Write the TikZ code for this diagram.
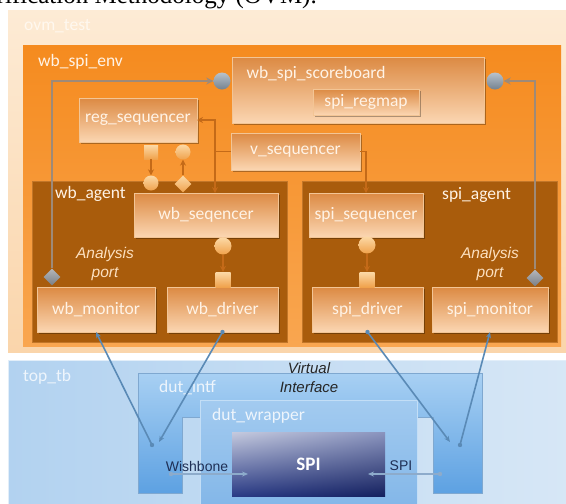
\documentclass[tikz,border=0pt]{standalone}
\usepackage{fontspec}
\setmainfont{Carlito}
\newfontfamily\arialfont{Liberation Sans}
\newfontfamily\timesfont{Liberation Serif}
\usetikzlibrary{arrows.meta,shapes.geometric,shadows,shadings,calc}

% palette
\definecolor{peachTop}{HTML}{FDEBD5}
\definecolor{peachBot}{HTML}{FAD5AB}
\definecolor{envTop}{HTML}{F58B1F}
\definecolor{envBot}{HTML}{F9A650}
\definecolor{agentBrown}{HTML}{A95C0C}
\definecolor{agentEdge}{HTML}{C27628}
\definecolor{boxTop}{HTML}{DC8A43}
\definecolor{boxBot}{HTML}{FBD6B2}
\definecolor{boxEdge}{HTML}{F3C595}
\definecolor{labelCream}{HTML}{FFF3E6}
\definecolor{peachLabel}{HTML}{FFF8EF}
\definecolor{apText}{HTML}{FCE0C0}
\definecolor{seqLine}{HTML}{C46A18}
\definecolor{apLine}{HTML}{9E8A78}
\definecolor{portGrayTop}{HTML}{B8C2CC}
\definecolor{portGrayBot}{HTML}{74828F}
\definecolor{diaTop}{HTML}{B4B7BB}
\definecolor{diaBot}{HTML}{7A7E84}
\definecolor{portTop}{HTML}{FCD9A6}
\definecolor{portBot}{HTML}{F0A24C}
\definecolor{tbLeft}{HTML}{B2D2F0}
\definecolor{tbRight}{HTML}{D7E7F6}
\definecolor{tbEdge}{HTML}{E2EEF9}
\definecolor{intfTop}{HTML}{A8D0F3}
\definecolor{intfBot}{HTML}{5DA1E2}
\definecolor{intfEdge}{HTML}{7FA8D0}
\definecolor{wrapTop}{HTML}{A3CBF0}
\definecolor{wrapBot}{HTML}{82B6E8}
\definecolor{wrapEdge}{HTML}{C3DEF6}
\definecolor{spiUL}{HTML}{C5CADE}
\definecolor{spiUR}{HTML}{8A94BE}
\definecolor{spiLL}{HTML}{2A3B86}
\definecolor{spiLR}{HTML}{15215F}
\definecolor{vifLine}{HTML}{5A8AB6}
\definecolor{busLine}{HTML}{8DABCB}
\definecolor{navyText}{HTML}{1F2F55}
\definecolor{blueLabel}{HTML}{EEF5FC}

\begin{document}
\begin{tikzpicture}[x=1pt,y=-1pt,
  lblfont/.style={font=\fontsize{17.5}{20}\selectfont},
  container/.style={anchor=north west, inner sep=0pt, outer sep=0pt},
  agentbox/.style={container, fill=agentBrown, draw=agentEdge, line width=1pt},
  obox/.style={anchor=north west, inner sep=0pt, outer sep=0pt, lblfont,
    top color=boxTop, bottom color=boxBot, draw=boxEdge, line width=0.6pt,
    text=labelCream,
    drop shadow={shadow xshift=1.5pt, shadow yshift=-1.5pt, opacity=0.3, fill=black}},
  tag/.style={anchor=west, inner sep=0pt, lblfont},
  gport/.style={circle, inner sep=0pt, minimum size=17pt, top color=portGrayTop, bottom color=portGrayBot},
  gdia/.style={diamond, inner sep=0pt, minimum size=17pt, top color=diaTop, bottom color=diaBot},
  ocirc/.style={circle, inner sep=0pt, minimum size=15pt, top color=portTop, bottom color=portBot},
  osq/.style={rectangle, inner sep=0pt, minimum size=14pt, top color=portTop, bottom color=portBot},
  odia/.style={diamond, inner sep=0pt, minimum size=17pt, top color=portTop, bottom color=portBot},
  apline/.style={draw=apLine, line width=2.5pt, -{Stealth[length=7pt,width=7pt]}},
  seqarrow/.style={draw=seqLine, line width=1.8pt, -{Stealth[length=6pt,width=6pt]}},
  seqline/.style={draw=seqLine, line width=1.8pt},
  vif/.style={draw=vifLine, line width=1.6pt, -{Stealth[length=6pt,width=5pt]}},
  bus/.style={draw=busLine, line width=1.6pt, -{Stealth[length=6pt,width=5pt]}},
  aptext/.style={align=center, inner sep=0pt, text=apText,
    font=\arialfont\itshape\fontsize{15.5}{19.5}\selectfont}
]
\useasboundingbox (0,0) rectangle (566,504);
\clip (0,0) rectangle (566,504);
\fill[white] (0,0) rectangle (566,504);

% caption line running above the figure
\node[anchor=base east, inner sep=0pt, font=\timesfont\fontsize{25}{26}\selectfont]
  (caption) at (317,3) {Open Verification Methodology (OVM).};

% ---------------- test / environment / agents ----------------
\node[container, top color=peachTop, bottom color=peachBot,
      minimum width=562pt, minimum height=342pt] (ovm) at (8,10) {};
\node[tag, text=peachLabel] (ovmlbl) at (24,26) {ovm\_test};

\node[container, top color=envTop, bottom color=envBot,
      minimum width=538pt, minimum height=301pt] (env) at (23,45) {};
\node[tag, text=labelCream] (envlbl) at (38,62) {wb\_spi\_env};

\node[agentbox, minimum width=255pt, minimum height=161pt] (wbagent) at (32,181) {};
\node[agentbox, minimum width=255pt, minimum height=161pt] (spiagent) at (302,181) {};
\node[tag, text=labelCream] (wbagentlbl) at (55,194) {wb\_agent};
\node[tag, text=labelCream] (spiagentlbl) at (442,195) {spi\_agent};

% scoreboard with its register map
\node[obox, minimum width=252pt, minimum height=66pt] (sb) at (232,57) {};
\node[inner sep=0pt, lblfont, text=labelCream] (sblbl) at (316,74) {wb\_spi\_scoreboard};
\node[obox, minimum width=106pt, minimum height=26pt] (regmap) at (313,89) {spi\_regmap};

% sequencers
\node[obox, minimum width=118pt, minimum height=44pt] (regseq) at (79,98) {reg\_sequencer};
\node[obox, minimum width=129pt, minimum height=37pt] (vseq) at (231,133) {v\_sequencer};
\node[obox, minimum width=144pt, minimum height=44pt] (wbseq) at (134,193) {wb\_seqencer};
\node[obox, minimum width=114pt, minimum height=44pt] (spiseq) at (309,193) {spi\_sequencer};

% monitors and drivers
\node[obox, minimum width=118pt, minimum height=45pt] (wbmon) at (37,287) {wb\_monitor};
\node[obox, minimum width=111pt, minimum height=45pt] (wbdrv) at (167,287) {wb\_driver};
\node[obox, minimum width=111pt, minimum height=45pt] (spidrv) at (312,287) {spi\_driver};
\node[obox, minimum width=116pt, minimum height=45pt] (spimon) at (432,287) {spi\_monitor};

\node[aptext] (wbaplbl) at (105,264) {Analysis\\port};
\node[aptext] (spiaplbl) at (490,264) {Analysis\\port};

% analysis ports to scoreboard exports
\node[gport] (sbl) at (222,81) {};
\node[gport] (sbr) at (495,81) {};
\node[gdia] (wbap) at (52,277) {};
\node[gdia] (spiap) at (535,278) {};
\draw[apline] (wbap.north) |- (sbl.west);
\draw[apline] (spiap.north) |- (sbr.east);

% virtual sequencer fan-out
\coordinate (vj) at ($(vseq.west)+(-16,0)$);
\draw[seqline] (vseq.west) -- (vj);
\draw[seqarrow] (vj) |- (regseq.east);
\draw[seqarrow] (vj) -- (vj |- wbseq.north);
\draw[seqarrow] (vseq.east) -| (spiseq.north);

% sequencer / driver ports
\node[osq] (regsq) at (151,152) {};
\node[ocirc] (regc) at (183,152) {};
\node[ocirc] (wbc) at (151,183) {};
\node[odia] (wbd) at (183,184) {};
\draw[seqarrow] (regsq.south) -- (wbc.north);
\draw[seqarrow] (wbd.north) -- (regc.south);

\node[ocirc, minimum size=17pt] (wbsc) at (223,246) {};
\node[osq, minimum size=15pt] (wbsq) at (223,279.5) {};
\draw[seqarrow] (wbsc.south) -- (wbsq.north);
\node[ocirc, minimum size=17pt] (spic) at (367,245) {};
\node[osq, minimum size=15pt] (spisq) at (367,279.5) {};
\draw[seqarrow] (spic.south) -- (spisq.north);

% ---------------- top level testbench ----------------
\node[container, left color=tbLeft, right color=tbRight, draw=tbEdge, line width=1pt,
      minimum width=562pt, minimum height=150pt] (toptb) at (8,360) {};
\node[tag, text=blueLabel] (toptblbl) at (23,377) {top\_tb};

% interface: a bar with two legs
\shade[top color=intfTop, bottom color=intfBot, draw=intfEdge, line width=0.8pt]
  (138,373) -- (482,373) -- (482,493) -- (433,493) -- (433,417)
  -- (182,417) -- (182,493) -- (138,493) -- cycle;
\node[tag, text=blueLabel] (intflbl) at (159,388) {dut\_intf};

\node[align=center, inner sep=0pt, text=black!85,
      font=\arialfont\itshape\fontsize{15}{19}\selectfont] (viflbl) at (309,378) {Virtual\\Interface};

\node[container, top color=wrapTop, bottom color=wrapBot, draw=wrapEdge, line width=1pt,
      minimum width=217pt, minimum height=110pt] (wrapper) at (200,400) {};
\node[tag, text=blueLabel] (wraplbl) at (212,416) {dut\_wrapper};

\node[container, upper left=spiUL, upper right=spiUR, lower left=spiLL, lower right=spiLR,
      minimum width=153pt, minimum height=64pt, text=white,
      font=\bfseries\fontsize{19}{22}\selectfont] (spi) at (232,432) {SPI};

% buses between the interface legs and the core
\coordinate (wbbusL) at (171,474);
\coordinate (wbbusR) at (248,474);
\coordinate (spibusR) at (440,474);
\coordinate (spibusL) at (368,474);
\draw[bus] (wbbusL) -- (wbbusR);
\fill[busLine] (wbbusL) circle (2.2pt);
\draw[bus] (spibusR) -- (spibusL);
\fill[busLine] (spibusR) circle (2.2pt);
\node[inner sep=0pt, text=navyText, font=\arialfont\fontsize{14}{16}\selectfont] (wblbl) at (197,466) {Wishbone};
\node[inner sep=0pt, text=navyText, font=\arialfont\fontsize{14}{16}\selectfont] (spilbl) at (401,466) {SPI};

% virtual interface handles
\coordinate (wbmonvif) at (152,445);
\coordinate (wbdrvvif) at (159,442);
\coordinate (spidrvvif) at (450,442);
\coordinate (spimonvif) at (460,445);
\draw[vif] (wbmonvif) -- (wbmon.south);
\fill[vifLine] (wbmonvif) circle (2.2pt);
\draw[vif] (wbdrv.south) -- (wbdrvvif);
\fill[vifLine] (wbdrv.south) circle (2.2pt);
\draw[vif] (spidrv.south) -- (spidrvvif);
\fill[vifLine] (spidrv.south) circle (2.2pt);
\draw[vif] (spimonvif) -- (spimon.south);
\fill[vifLine] (spimonvif) circle (2.2pt);
\end{tikzpicture}
\end{document}
